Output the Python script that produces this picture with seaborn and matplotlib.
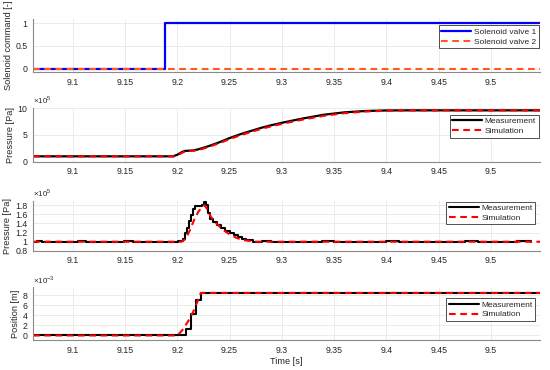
import numpy as np
import pandas as pd
import matplotlib
matplotlib.use("Agg")
import matplotlib.pyplot as plt
import seaborn as sns
from matplotlib.ticker import FuncFormatter

# ---------------- data ----------------
# Panel 1: solenoid commands
sv1_t = [9.062, 9.188, 9.188, 9.547]
sv1_v = [0, 0, 1, 1]
sv2_t = [9.062, 9.547]
sv2_v = [0, 0]

# Panel 2: upstream pressure (x1e5 Pa)
p2_meas_t = [9.062, 9.196, 9.200, 9.204, 9.207, 9.211, 9.215, 9.220, 9.230, 9.240,
             9.250, 9.260, 9.270, 9.280, 9.290, 9.300, 9.320, 9.340, 9.360, 9.380,
             9.400, 9.420, 9.547]
p2_meas_v = [1.0, 1.0, 1.3, 1.75, 2.0, 2.05, 2.1, 2.3, 2.9, 3.6,
             4.4, 5.1, 5.7, 6.3, 6.8, 7.25, 8.05, 8.75, 9.2, 9.45,
             9.55, 9.57, 9.57]
p2_sim_t = [9.062, 9.197, 9.201, 9.205, 9.208, 9.212, 9.216, 9.221, 9.230, 9.240,
            9.250, 9.260, 9.270, 9.280, 9.290, 9.300, 9.320, 9.340, 9.360, 9.380,
            9.400, 9.420, 9.547]
p2_sim_v = [1.0, 1.0, 1.25, 1.7, 1.95, 2.0, 2.05, 2.2, 2.75, 3.45,
            4.2, 4.9, 5.5, 6.1, 6.6, 7.05, 7.85, 8.55, 9.05, 9.35,
            9.5, 9.55, 9.56]

# Panel 3: downstream pressure (x1e5 Pa)
p3_meas_t = [9.062, 9.066, 9.071, 9.080, 9.088, 9.097, 9.105, 9.113, 9.122, 9.131,
             9.140, 9.149, 9.158, 9.167, 9.176, 9.185, 9.194, 9.201, 9.205, 9.207,
             9.209, 9.211, 9.213, 9.215, 9.217, 9.224, 9.2255, 9.2275, 9.2295, 9.231,
             9.234, 9.238, 9.242, 9.246, 9.250, 9.254, 9.258, 9.262, 9.266, 9.272,
             9.281, 9.290, 9.300, 9.312, 9.325, 9.338, 9.350, 9.362, 9.375, 9.388,
             9.400, 9.412, 9.425, 9.438, 9.450, 9.462, 9.475, 9.488, 9.500, 9.512,
             9.525, 9.538]
p3_meas_v = [1.0, 1.007, 1.0, 0.995, 1.004, 0.996, 1.006, 1.0, 0.996, 1.004,
             1.0, 1.006, 0.996, 1.0, 1.004, 0.996, 1.0, 1.01, 1.06, 1.2,
             1.3, 1.45, 1.58, 1.72, 1.78, 1.8, 1.86, 1.8, 1.62, 1.5,
             1.42, 1.36, 1.3, 1.24, 1.19, 1.14, 1.1, 1.06, 1.03, 1.0,
             1.006, 0.996, 1.004, 1.0, 0.995, 1.006, 1.0, 1.004, 0.996, 1.0,
             1.006, 0.996, 1.0, 1.004, 0.996, 1.0, 1.006, 0.996, 1.004, 1.0,
             1.006, 1.0]
p3_sim_t = [9.062, 9.204, 9.208, 9.212, 9.216, 9.220, 9.224, 9.226, 9.229, 9.232,
            9.236, 9.240, 9.245, 9.250, 9.256, 9.262, 9.268, 9.275, 9.547]
p3_sim_v = [1.0, 1.0, 1.06, 1.25, 1.47, 1.65, 1.77, 1.8, 1.7, 1.55,
            1.43, 1.34, 1.24, 1.16, 1.09, 1.04, 1.02, 1.0, 1.0]

# Panel 4: spool position (x1e-3 m)
x_meas_t = [9.062, 9.208, 9.2129, 9.2177, 9.2225, 9.547]
x_meas_v = [0.0, 1.2, 4.2, 7.0, 8.45, 8.45]
x_sim_t = [9.062, 9.200, 9.205, 9.210, 9.215, 9.219, 9.2225, 9.547]
x_sim_v = [0.0, 0.0, 1.1, 2.7, 4.6, 6.6, 8.45, 8.45]

xticks = [9.1, 9.15, 9.2, 9.25, 9.3, 9.35, 9.4, 9.45, 9.5]
xlim = (9.062, 9.547)

# ---------------- styling ----------------
sns.set_theme(style="white")
plt.rcParams["font.family"] = ["Liberation Sans", "DejaVu Sans"]
plt.rcParams["mathtext.fontset"] = "custom"
plt.rcParams["mathtext.rm"] = "Liberation Sans"

TXT = "#262626"
SPINE = "#8a8a8a"
GRID = "#e8e8e8"
FS_TICK = 6.3
FS_LAB = 6.6
FS_LEG = 6.0

fig = plt.figure(figsize=(5.5, 3.7), dpi=100)
left, width = 0.06, 0.922
positions = [
    (0.805, 0.144),
    (0.563, 0.145),
    (0.322, 0.136),
    (0.081, 0.143),
]
axes = [fig.add_axes([left, b, width, h]) for b, h in positions]

def series(t, v, name):
    return pd.DataFrame({"t": t, "v": v, "name": name})

def style_axis(ax, ylim, yticks, ylabel, offset=None):
    ax.set_xlim(*xlim)
    ax.set_ylim(*ylim)
    ax.set_xticks(xticks)
    ax.set_yticks(yticks)
    ax.xaxis.set_major_formatter(FuncFormatter(lambda v, p: f"{v:g}"))
    ax.yaxis.set_major_formatter(FuncFormatter(lambda v, p: f"{v:g}"))
    ax.grid(True, color=GRID, linewidth=0.6)
    ax.set_axisbelow(True)
    for s in ["top", "right"]:
        ax.spines[s].set_visible(False)
    for s in ["left", "bottom"]:
        ax.spines[s].set_color(SPINE)
        ax.spines[s].set_linewidth(0.8)
    ax.tick_params(axis="both", direction="in", length=3, width=0.6,
                   color=SPINE, labelsize=FS_TICK, labelcolor=TXT, pad=4)
    ax.set_xlabel("")
    ax.set_ylabel(ylabel, fontsize=FS_LAB, color=TXT, labelpad=2)
    if offset:
        ax.text(0.0, 1.03, offset, transform=ax.transAxes, ha="left",
                va="bottom", fontsize=FS_TICK - 0.5, color=TXT)

def legend(ax, bbox):
    leg = ax.legend(loc="upper right", bbox_to_anchor=bbox, fontsize=FS_LEG,
                    frameon=True, fancybox=False, framealpha=1,
                    edgecolor="#333333", handlelength=3.6, handletextpad=0.3,
                    borderpad=0.3, labelspacing=0.25, borderaxespad=0)
    leg.get_frame().set_linewidth(0.6)

# Panel 1
ax = axes[0]
sns.lineplot(data=series(sv1_t, sv1_v, "Solenoid valve 1"), x="t", y="v",
             ax=ax, color="#0000ff", linewidth=1.6, estimator=None, sort=False,
             label="Solenoid valve 1")
sns.lineplot(data=series(sv2_t, sv2_v, "Solenoid valve 2"), x="t", y="v",
             ax=ax, color="#ff5a1a", linewidth=1.5, linestyle=(0, (3.2, 2.2)),
             estimator=None, sort=False, label="Solenoid valve 2")
style_axis(ax, (-0.08, 1.1), [0, 0.5, 1], "Solenoid command [-]")
legend(ax, (0.997, 0.88))

# Panel 2
ax = axes[1]
sns.lineplot(data=series(p2_meas_t, p2_meas_v, "Measurement"), x="t", y="v",
             ax=ax, color="black", linewidth=1.6, estimator=None, sort=False,
             label="Measurement")
sns.lineplot(data=series(p2_sim_t, p2_sim_v, "Simulation"), x="t", y="v",
             ax=ax, color="#ff0000", linewidth=1.5, linestyle=(0, (3.2, 2.2)),
             estimator=None, sort=False, label="Simulation")
style_axis(ax, (0, 10), [0, 5, 10], "Pressure [Pa]", r"$\times10^{5}$")
legend(ax, (0.997, 0.87))

# Panel 3
ax = axes[2]
sns.lineplot(data=series(p3_meas_t, p3_meas_v, "Measurement"), x="t", y="v",
             ax=ax, color="black", linewidth=1.5, estimator=None, sort=False,
             drawstyle="steps-post", label="Measurement")
sns.lineplot(data=series(p3_sim_t, p3_sim_v, "Simulation"), x="t", y="v",
             ax=ax, color="#ff0000", linewidth=1.5, linestyle=(0, (3.2, 2.2)),
             estimator=None, sort=False, label="Simulation")
style_axis(ax, (0.8, 1.9), [0.8, 1, 1.2, 1.4, 1.6, 1.8], "Pressure [Pa]",
           r"$\times10^{5}$")
legend(ax, (0.99, 0.98))

# Panel 4
ax = axes[3]
sns.lineplot(data=series(x_meas_t, x_meas_v, "Measurement"), x="t", y="v",
             ax=ax, color="black", linewidth=1.5, estimator=None, sort=False,
             drawstyle="steps-post", label="Measurement")
sns.lineplot(data=series(x_sim_t, x_sim_v, "Simulation"), x="t", y="v",
             ax=ax, color="#ff0000", linewidth=1.5, linestyle=(0, (3.2, 2.2)),
             estimator=None, sort=False, label="Simulation")
style_axis(ax, (-0.9, 9.6), [0, 2, 4, 6, 8], "Position [m]",
           r"$\times10^{-3}$")
ax.set_xlabel("Time [s]", fontsize=FS_LAB, color=TXT, labelpad=2)
legend(ax, (0.99, 0.79))

fig.savefig("out.png", dpi=100)
